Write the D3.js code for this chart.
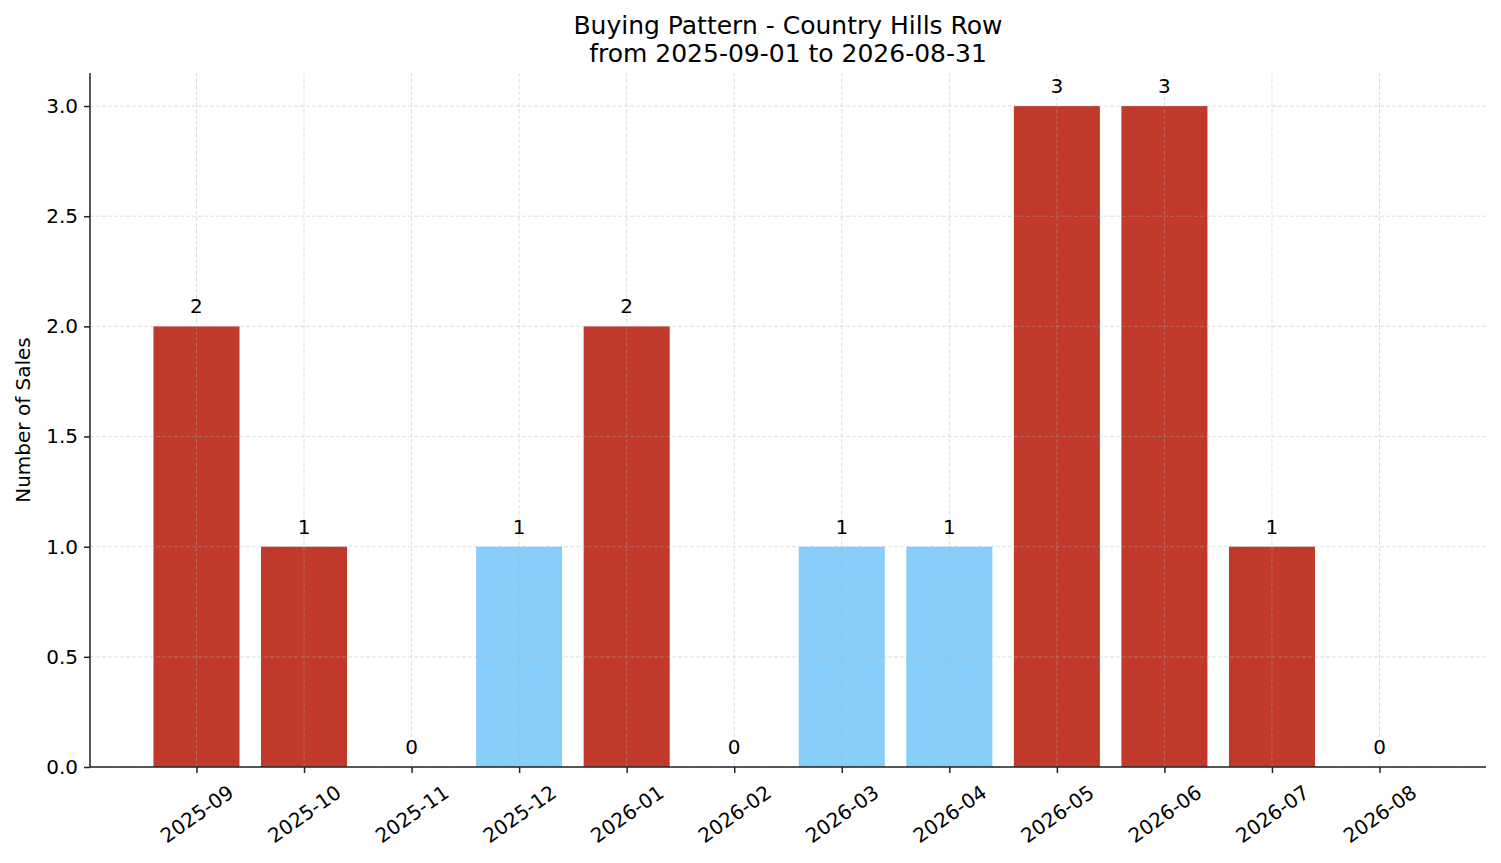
<!DOCTYPE html>
<html>
<head>
<meta charset="utf-8">
<script src="https://cdn.jsdelivr.net/npm/d3@7"></script>
<style>
  body { margin: 0; background: #fff; }
  text { font-family: "DejaVu Sans", sans-serif; fill: #000; }
</style>
</head>
<body>
<svg width="1501" height="863"></svg>
<script>
const months = ["2025-09", "2025-10", "2025-11", "2025-12", "2026-01", "2026-02",
  "2026-03", "2026-04", "2026-05", "2026-06", "2026-07", "2026-08"];
const sales = [2, 1, 0, 1, 2, 0, 1, 1, 3, 3, 1, 0];
const highlight = [true, true, false, false, true, false, false, false, true, true, true, false];
const yTicks = [0, 0.5, 1, 1.5, 2, 2.5, 3];

const svg = d3.select("svg"),
  width = +svg.attr("width"),
  height = +svg.attr("height");

const margin = { top: 73, right: 15, bottom: 96, left: 90 };
const plotW = width - margin.left - margin.right,
  plotH = height - margin.top - margin.bottom;

const g = svg.append("g").attr("transform", `translate(${margin.left},${margin.top})`);

// matplotlib-like: bars width 0.8, 5% margins
const x = d3.scaleLinear().domain([-0.99, months.length - 1 + 0.99]).range([0, plotW]);
const y = d3.scaleLinear().domain([0, 3.15]).range([plotH, 0]);
const step = x(1) - x(0);
const barW = step * 0.8;

g.selectAll(".bar")
  .data(sales)
  .join("rect")
  .attr("class", "bar")
  .attr("x", (d, i) => x(i) - barW / 2)
  .attr("y", d => y(d))
  .attr("width", barW)
  .attr("height", d => plotH - y(d))
  .style("fill", (d, i) => highlight[i] ? "#c0392b" : "#87cefa");

// grid on top of bars
g.selectAll(".hgrid")
  .data(yTicks)
  .join("line")
  .attr("x1", 0).attr("x2", plotW)
  .attr("y1", d => y(d)).attr("y2", d => y(d))
  .style("stroke", "#b0b0b0").style("stroke-opacity", 0.5)
  .style("stroke-width", 0.8).style("stroke-dasharray", "4,2");

g.selectAll(".vgrid")
  .data(months)
  .join("line")
  .attr("x1", (d, i) => x(i)).attr("x2", (d, i) => x(i))
  .attr("y1", 0).attr("y2", plotH)
  .style("stroke", "#b0b0b0").style("stroke-opacity", 0.5)
  .style("stroke-width", 0.8).style("stroke-dasharray", "4,2");

g.selectAll(".val")
  .data(sales)
  .join("text")
  .attr("x", (d, i) => x(i))
  .attr("y", d => y(d) - 13)
  .attr("text-anchor", "middle")
  .style("font-size", "20px")
  .text(d => d);

// y axis
const yAxis = g.append("g")
  .call(d3.axisLeft(y).tickValues(yTicks).tickFormat(d3.format(".1f")).tickSize(6).tickPadding(6));
yAxis.selectAll("text").style("font-size", "20px").style("font-family", "DejaVu Sans");
yAxis.selectAll("line, path").style("stroke", "#222").style("stroke-width", 1.5);
yAxis.select(".domain").attr("d", `M0,${plotH}V0`);

// x axis
const xAxis = g.append("g")
  .attr("transform", `translate(0,${plotH})`)
  .call(d3.axisBottom(x).tickValues(d3.range(months.length)).tickFormat(i => months[i]).tickSize(6));
xAxis.selectAll("line, path").style("stroke", "#222").style("stroke-width", 1.5);
xAxis.select(".domain").attr("d", `M0,0H${plotW}`);
xAxis.selectAll("text")
  .style("font-size", "20px").style("font-family", "DejaVu Sans")
  .attr("text-anchor", "middle")
  .attr("dy", null)
  .attr("dominant-baseline", "central")
  .attr("y", 0)
  .attr("transform", "translate(0,47) rotate(-35)");

// labels
svg.append("text")
  .attr("transform", `translate(30,${margin.top + plotH / 2}) rotate(-90)`)
  .attr("text-anchor", "middle")
  .style("font-size", "20px")
  .text("Number of Sales");

svg.append("text")
  .attr("x", margin.left + plotW / 2).attr("y", 34)
  .attr("text-anchor", "middle")
  .style("font-size", "25px")
  .text("Buying Pattern - Country Hills Row");
svg.append("text")
  .attr("x", margin.left + plotW / 2).attr("y", 62)
  .attr("text-anchor", "middle")
  .style("font-size", "25px")
  .text("from 2025-09-01 to 2026-08-31");
</script>
</body>
</html>
